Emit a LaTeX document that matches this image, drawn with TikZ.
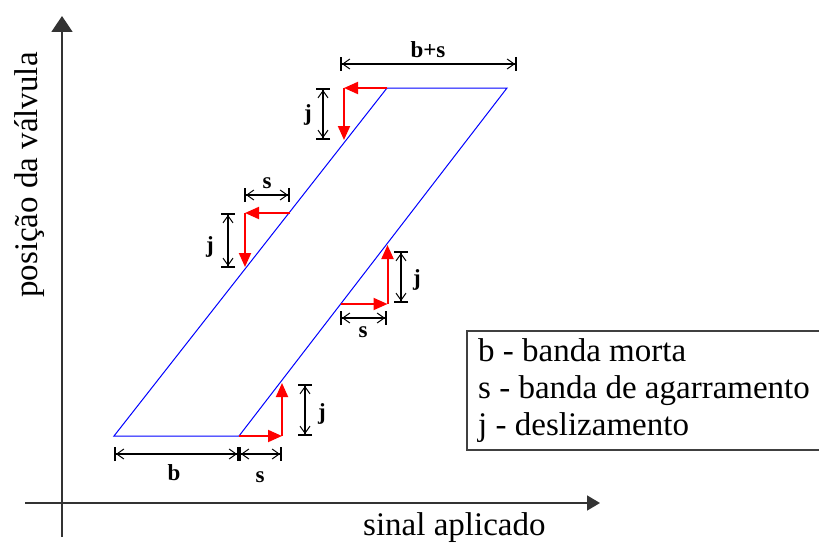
\documentclass[tikz,border=0pt]{standalone}
\usepackage{fontspec}
\setmainfont{Liberation Serif}
\usetikzlibrary{arrows.meta}
\begin{document}
\begin{tikzpicture}[x=1pt,y=-1pt,
  axis/.style={line width=1.6pt, draw=black!80},
  curve/.style={draw=blue, line width=1pt, line join=miter},
  slip/.style={draw=red, line width=2pt, -{Triangle[length=14pt,width=12pt]}},
  dim/.style={draw=black, line width=1.5pt,
    {Bar[width=14pt,line width=2pt]Straight Barb[length=7pt,width=10pt,line width=1pt]}-{Straight Barb[length=7pt,width=10pt,line width=1pt]Bar[width=14pt,line width=2pt]}},
  lbl/.style={font=\fontsize{23}{26}\selectfont\bfseries, inner sep=0pt},
  big/.style={font=\fontsize{33}{36}\selectfont, inner sep=0pt},
  legendbox/.style={draw=black!75, line width=2pt}]
\useasboundingbox (0,0) rectangle (819,543);
% axes
\coordinate (xstart) at (25,503);
\coordinate (xend) at (600,503);
\coordinate (ybot) at (62,537);
\coordinate (ytop) at (62,16);
\draw[axis, -{Triangle[length=13pt,width=15pt]}] (xstart) -- (xend);
\draw[axis, -{Triangle[length=16pt,width=21pt]}] (ybot) -- (ytop);
\node[big, anchor=base west] (xlabel) at (363,535) {sinal aplicado};
\node[big, anchor=base west, rotate=90] (ylabel) at (37,298) {posição da válvula};
% hysteresis loop
\coordinate (A) at (114,436);
\coordinate (B) at (239,436);
\coordinate (C) at (507,88);
\coordinate (D) at (387,88);
\draw[curve] (A) -- (B) -- (C) -- (D) -- cycle;
% red slip arrows
\coordinate (r1b) at (344,88);
\coordinate (r1c) at (344,140);
\draw[slip] (D) -- (r1b);
\draw[slip] (r1b) -- (r1c);
\coordinate (r2a) at (290,213);
\coordinate (r2b) at (245,213);
\coordinate (r2c) at (245,267);
\draw[slip] (r2a) -- (r2b);
\draw[slip] (r2b) -- (r2c);
\coordinate (r3a) at (340.5,304);
\coordinate (r3b) at (387.5,304);
\coordinate (r3c) at (387.5,245);
\draw[slip] (r3a) -- (r3b);
\draw[slip] (r3b) -- (r3c);
\coordinate (r4b) at (282,436);
\coordinate (r4c) at (282,383);
\draw[slip] (B) -- (r4b);
\draw[slip] (r4b) -- (r4c);
% dimension lines
\coordinate (d1a) at (340,64);  \coordinate (d1b) at (517,64);
\draw[dim] (d1a) -- (d1b);
\node[lbl] (t1) at (428,50) {b+s};
\coordinate (d2a) at (323,88);  \coordinate (d2b) at (323,140);
\draw[dim] (d2a) -- (d2b);
\node[lbl] (t2) at (308,115) {j};
\coordinate (d3a) at (244,195); \coordinate (d3b) at (290,195);
\draw[dim] (d3a) -- (d3b);
\node[lbl] (t3) at (267,183) {s};
\coordinate (d4a) at (228,213); \coordinate (d4b) at (228,268);
\draw[dim] (d4a) -- (d4b);
\node[lbl] (t4) at (210,247) {j};
\coordinate (d5a) at (401,251); \coordinate (d5b) at (401,303);
\draw[dim] (d5a) -- (d5b);
\node[lbl] (t5) at (417,280) {j};
\coordinate (d6a) at (340,318); \coordinate (d6b) at (387,318);
\draw[dim] (d6a) -- (d6b);
\node[lbl] (t6) at (363,332) {s};
\coordinate (d7a) at (305,384); \coordinate (d7b) at (305,436);
\draw[dim] (d7a) -- (d7b);
\node[lbl] (t7) at (322,414) {j};
\coordinate (d8a) at (114,454); \coordinate (d8b) at (239,454);
\draw[dim] (d8a) -- (d8b);
\node[lbl] (t8) at (174,473) {b};
\coordinate (d9a) at (239,454); \coordinate (d9b) at (282,454);
\draw[dim] (d9a) -- (d9b);
\node[lbl] (t9) at (260,477) {s};
% legend
\draw[legendbox] (466.5,331) rectangle (826,449.5);
\node[big, anchor=base west] (leg1) at (478,361.7) {b - banda morta};
\node[big, anchor=base west] (leg2) at (478,398.3) {s - banda de agarramento};
\node[big, anchor=base west] (leg3) at (478,435) {j - deslizamento};
\end{tikzpicture}
\end{document}
